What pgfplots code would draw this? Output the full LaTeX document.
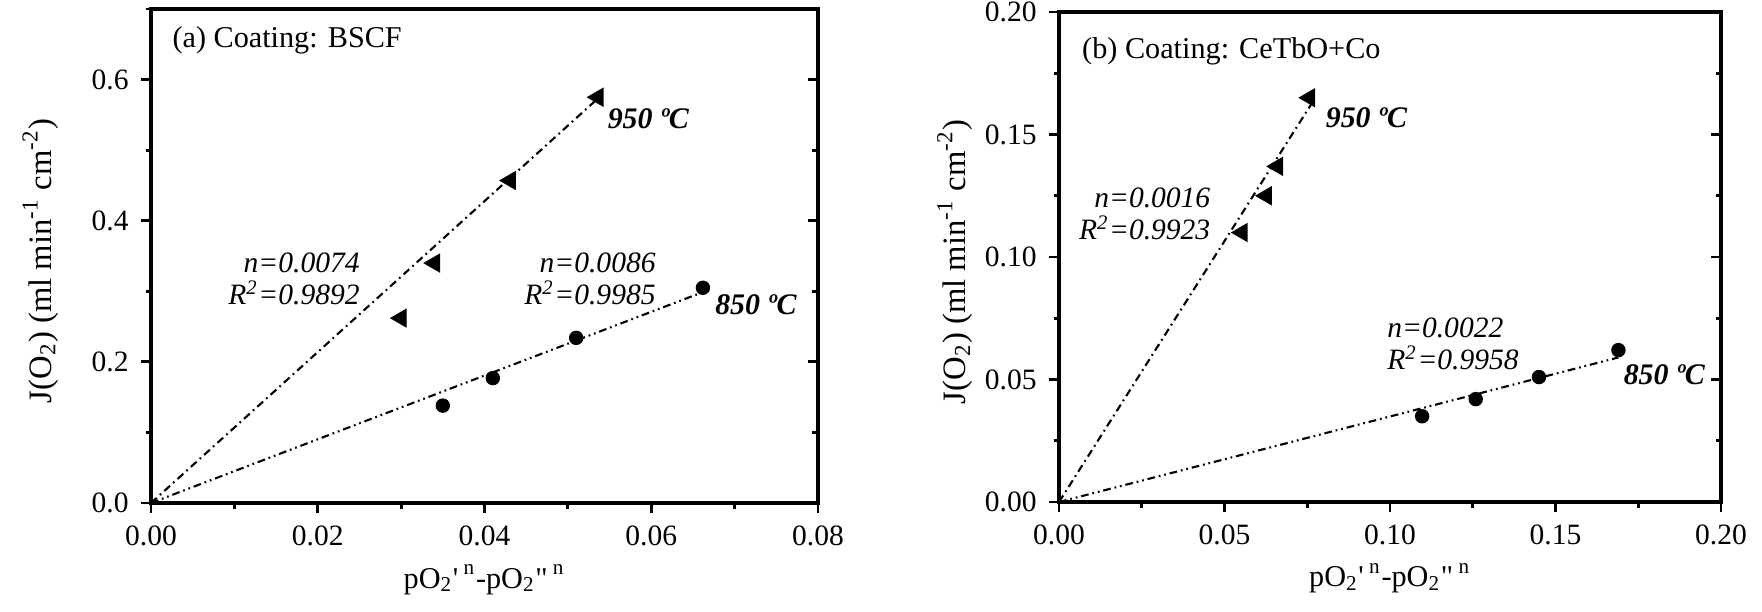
\documentclass[border=0pt]{standalone}
\usepackage{fontspec}
\setmainfont{Liberation Serif}
\usepackage{pgfplots}
\pgfplotsset{compat=1.18}

\pgfplotsset{
  panel/.style={
    scale only axis,
    axis line style={line width=0.9pt},
    tick style={black, line width=0.8pt},
    major tick length=1mm, minor tick length=0.55mm,
    tick align=outside,
    xtick pos=bottom, ytick pos=left,
    scaled ticks=false,
    tick label style={font=\fontsize{8.4}{9}\selectfont},
    xlabel style={font=\fontsize{8.6}{10}\selectfont, anchor=center},
    ylabel style={font=\fontsize{9.3}{10}\selectfont, anchor=center},
    /pgf/number format/assume math mode=true,
    /pgf/number format/fixed, /pgf/number format/fixed zerofill,
    clip=false,
  },
  rightticks/.style={
    scale only axis,
    hide x axis, axis y line*=right,
    axis line style={line width=0.9pt},
    tick style={black, line width=0.8pt},
    major tick length=1mm, minor tick length=0.55mm,
    ytick align=inside, yticklabels={},
  },
  fit850/.style={black, line width=0.6pt, no markers,
    dash pattern=on 2.2pt off 1.1pt on 0.5pt off 1.1pt on 0.5pt off 1.1pt},
  fit950/.style={black, line width=0.6pt, no markers,
    dash pattern=on 2.2pt off 1.2pt on 0.5pt off 1.2pt},
  tri/.style={only marks, mark=triangle*, mark size=2.8pt,
    mark options={rotate=90, fill=black, draw=black}},
  dot/.style={only marks, mark=*, mark size=1.85pt,
    mark options={fill=black, draw=black}},
}
\tikzset{
  note/.style={font=\fontsize{8.4}{10}\selectfont\itshape, inner sep=0pt},
  temp/.style={font=\fontsize{8.5}{10}\selectfont\bfseries\itshape, inner sep=0pt, anchor=west},
}

\newcommand{\xlab}{pO\textsubscript{2}\textquotesingle\textsuperscript{ n}-pO\textsubscript{2}\textquotedbl\textsuperscript{ n}}
\newcommand{\ylab}{J(O\textsubscript{2}) (ml min\textsuperscript{-1} cm\textsuperscript{-2})}

\begin{document}
\begin{tikzpicture}
\path[use as bounding box] (0,0) rectangle (17.62cm,6.11cm);

% (a) BSCF
\begin{axis}[panel,
  at={(1.51cm,1.08cm)}, anchor=south west,
  width=6.67cm, height=4.94cm,
  xmin=0, xmax=0.08, ymin=0, ymax=0.7,
  xtick={0,0.02,0.04,0.06,0.08}, minor xtick={0.01,0.03,0.05,0.07},
  ytick={0,0.2,0.4,0.6}, minor ytick={0.1,0.3,0.5,0.7},
  xticklabel style={/pgf/number format/precision=2},
  yticklabel style={/pgf/number format/precision=1},
  xlabel={\xlab}, ylabel={\ylab},
  xlabel style={at={(axis description cs:0.5,-0.155)}},
  ylabel style={at={(axis description cs:-0.166,0.49)}},
]
\addplot[fit950] coordinates {(0,0) (0.0533,0.570)};
\addplot[fit850] coordinates {(0,0) (0.0660,0.298)};
\addplot[tri] coordinates {(0.0300,0.262) (0.0340,0.340) (0.0431,0.457) (0.0536,0.575)};
\addplot[dot] coordinates {(0.0350,0.138) (0.0410,0.177) (0.0510,0.234) (0.0662,0.305)};
\node[anchor=west, inner sep=0pt, font=\fontsize{8.6}{10}\selectfont] at (axis cs:0.0025,0.655) {(a) Coating: BSCF};
\node[temp] at (axis cs:0.0547,0.545) {950 ºC};
\node[temp] at (axis cs:0.0676,0.281) {850 ºC};
\node[note, align=right, anchor=east] at (axis cs:0.0251,0.318) {n=0.0074\\[-1pt]R\textsuperscript{2}=0.9892};
\node[note, align=right, anchor=east] at (axis cs:0.0606,0.318) {n=0.0086\\[-1pt]R\textsuperscript{2}=0.9985};
\end{axis}
\begin{axis}[rightticks,
  at={(1.51cm,1.08cm)}, anchor=south west,
  width=6.67cm, height=4.94cm,
  xmin=0, xmax=0.08, ymin=0, ymax=0.7,
  ytick={0,0.2,0.4,0.6}, minor ytick={0.1,0.3,0.5,0.7},
]
\end{axis}

% (b) CeTbO+Co
\begin{axis}[panel,
  at={(10.59cm,1.09cm)}, anchor=south west,
  width=6.62cm, height=4.90cm,
  xmin=0, xmax=0.2, ymin=0, ymax=0.2,
  xtick={0,0.05,0.1,0.15,0.2}, minor xtick={0.025,0.075,0.125,0.175},
  ytick={0,0.05,0.1,0.15,0.2}, minor ytick={0.025,0.075,0.125,0.175},
  xticklabel style={/pgf/number format/precision=2},
  yticklabel style={/pgf/number format/precision=2},
  xlabel={\xlab}, ylabel={\ylab},
  xlabel style={at={(axis description cs:0.5,-0.156)}},
  ylabel style={at={(axis description cs:-0.157,0.49)}},
]
\addplot[fit950] coordinates {(0,0) (0.0765,0.163)};
\addplot[fit850] coordinates {(0,0) (0.169,0.059)};
\addplot[tri] coordinates {(0.0553,0.110) (0.0626,0.125) (0.0660,0.137) (0.0757,0.165)};
\addplot[dot] coordinates {(0.1097,0.035) (0.1259,0.042) (0.1450,0.051) (0.1690,0.062)};
\node[anchor=west, inner sep=0pt, font=\fontsize{8.6}{10}\selectfont] at (axis cs:0.0068,0.184) {(b) Coating: CeTbO+Co};
\node[temp] at (axis cs:0.0804,0.157) {950 ºC};
\node[temp] at (axis cs:0.1704,0.052) {850 ºC};
\node[note, align=right, anchor=east] at (axis cs:0.0459,0.1175) {n=0.0016\\[-1pt]R\textsuperscript{2}=0.9923};
\node[note, align=left, anchor=west] at (axis cs:0.0990,0.0645) {n=0.0022\\[-1pt]R\textsuperscript{2}=0.9958};
\end{axis}
\begin{axis}[rightticks,
  at={(10.59cm,1.09cm)}, anchor=south west,
  width=6.62cm, height=4.90cm,
  xmin=0, xmax=0.2, ymin=0, ymax=0.2,
  ytick={0,0.05,0.1,0.15,0.2}, minor ytick={0.025,0.075,0.125,0.175},
]
\end{axis}
\end{tikzpicture}
\end{document}
